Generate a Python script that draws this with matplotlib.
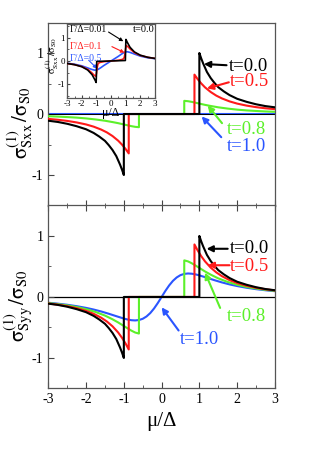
import matplotlib
matplotlib.use('Agg')
import matplotlib.pyplot as plt
from matplotlib.ticker import MultipleLocator

plt.rcParams['font.family'] = ['Liberation Serif', 'DejaVu Serif']
plt.rcParams['mathtext.fontset'] = 'stix'
plt.rcParams['axes.unicode_minus'] = False

RED = '#ff1a1a'
GREEN = '#5cf02a'
BLUE = '#2a55ff'

# t = 0.0 (same shape in both panels)
mu_t00 = [-3.0, -2.75, -2.5, -2.25, -2.0, -1.8, -1.65, -1.5, -1.4, -1.3, -1.2, -1.1, -1.05, -1.0,
          -1.0, 1.0, 1.0, 1.05, 1.1, 1.2, 1.3, 1.4, 1.5, 1.65, 1.8, 2.0, 2.25, 2.5, 2.75, 3.0]
s_t00 = [-0.11, -0.13, -0.16, -0.20, -0.25, -0.31, -0.37, -0.44, -0.51, -0.59, -0.69, -0.83, -0.91, -1.0,
         0.0, 0.0, 1.0, 0.91, 0.83, 0.69, 0.59, 0.51, 0.44, 0.37, 0.31, 0.25, 0.20, 0.16, 0.13, 0.11]

# t = 0.5
mu_t05 = [-3.0, -2.75, -2.5, -2.25, -2.0, -1.8, -1.6, -1.45, -1.3, -1.15, -1.05, -0.95, -0.87,
          -0.87, 0.87, 0.87, 0.95, 1.05, 1.15, 1.3, 1.45, 1.6, 1.8, 2.0, 2.25, 2.5, 2.75, 3.0]
sxx_t05 = [-0.08, -0.094, -0.113, -0.138, -0.171, -0.207, -0.255, -0.301, -0.361, -0.437, -0.501, -0.576, -0.646,
           0.0, 0.0, 0.646, 0.576, 0.501, 0.437, 0.361, 0.301, 0.255, 0.207, 0.171, 0.138, 0.113, 0.094, 0.08]
syy_t05 = [-0.107, -0.126, -0.151, -0.184, -0.228, -0.276, -0.340, -0.402, -0.481, -0.583, -0.668, -0.768, -0.861,
           0.0, 0.0, 0.861, 0.768, 0.668, 0.583, 0.481, 0.402, 0.340, 0.276, 0.228, 0.184, 0.151, 0.126, 0.107]

# t = 0.8
mu_t08 = [-3.0, -2.75, -2.5, -2.25, -2.0, -1.75, -1.5, -1.3, -1.15, -1.0, -0.9, -0.8, -0.7, -0.6,
          -0.6, 0.6, 0.6, 0.7, 0.8, 0.9, 1.0, 1.15, 1.3, 1.5, 1.75, 2.0, 2.25, 2.5, 2.75, 3.0]
sxx_t08 = [-0.036, -0.042, -0.050, -0.059, -0.072, -0.089, -0.110, -0.132, -0.150, -0.171, -0.185, -0.199, -0.210, -0.216,
           0.0, 0.0, 0.216, 0.210, 0.199, 0.185, 0.171, 0.150, 0.132, 0.110, 0.089, 0.072, 0.059, 0.050, 0.042, 0.036]
syy_t08 = [-0.100, -0.117, -0.138, -0.165, -0.200, -0.246, -0.305, -0.366, -0.418, -0.476, -0.515, -0.552, -0.583, -0.600,
           0.0, 0.0, 0.600, 0.583, 0.552, 0.515, 0.476, 0.418, 0.366, 0.305, 0.246, 0.200, 0.165, 0.138, 0.117, 0.100]

# t = 1.0
mu_t10_xx = [-3.0, 3.0]
sxx_t10 = [0.0, 0.0]
mu_t10 = [-3.0, -2.75, -2.5, -2.25, -2.0, -1.8, -1.6, -1.4, -1.2, -1.0, -0.9, -0.8, -0.7, -0.6, -0.5, -0.4, -0.3, -0.2, -0.1,
          0.0, 0.1, 0.2, 0.3, 0.4, 0.5, 0.6, 0.7, 0.8, 0.9, 1.0, 1.2, 1.4, 1.6, 1.8, 2.0, 2.25, 2.5, 2.75, 3.0]
syy_t10 = [-0.095, -0.110, -0.128, -0.151, -0.179, -0.206, -0.238, -0.275, -0.315, -0.354, -0.370, -0.381, -0.385, -0.378,
           -0.358, -0.320, -0.264, -0.189, -0.099, 0.0, 0.099, 0.189, 0.264, 0.320, 0.358, 0.378, 0.385, 0.381, 0.370,
           0.354, 0.315, 0.275, 0.238, 0.206, 0.179, 0.151, 0.128, 0.110, 0.095]

# inset, t = 0.0 with broadening
mu_g001 = [-3.0, -2.5, -2.0, -1.6, -1.3, -1.1, -1.02, -1.0, -0.98, 0.98, 1.0, 1.02, 1.1, 1.3, 1.6, 2.0, 2.5, 3.0]
s_g001 = [-0.11, -0.16, -0.25, -0.39, -0.59, -0.82, -0.93, -0.6, -0.02, 0.02, 0.6, 0.93, 0.82, 0.59, 0.39, 0.25, 0.16, 0.11]
mu_g01 = [-3.0, -2.5, -2.0, -1.6, -1.3, -1.15, -1.05, -1.0, -0.95, -0.9, -0.8, -0.5, 0.0,
          0.5, 0.8, 0.9, 0.95, 1.0, 1.05, 1.15, 1.3, 1.6, 2.0, 2.5, 3.0]
s_g01 = [-0.11, -0.16, -0.24, -0.36, -0.52, -0.62, -0.66, -0.55, -0.3, -0.14, -0.07, -0.03, 0.0,
         0.03, 0.07, 0.14, 0.3, 0.55, 0.66, 0.62, 0.52, 0.36, 0.24, 0.16, 0.11]
mu_g05 = [-3.0, -2.5, -2.0, -1.6, -1.3, -1.1, -0.9, -0.7, -0.5, -0.3, 0.0, 0.3, 0.5, 0.7, 0.9, 1.1, 1.3, 1.6, 2.0, 2.5, 3.0]
s_g05 = [-0.1, -0.14, -0.21, -0.3, -0.37, -0.4, -0.37, -0.29, -0.2, -0.12, 0.0, 0.12, 0.2, 0.29, 0.37, 0.4, 0.37, 0.3, 0.21, 0.14, 0.1]

fig = plt.figure(figsize=(3.2, 4.57), dpi=100)
ax1 = fig.add_axes([0.151, 0.5503, 0.708, 0.4004])
ax2 = fig.add_axes([0.151, 0.150, 0.708, 0.4004])
ins = fig.add_axes([0.21, 0.7856, 0.274, 0.162])


def style(ax, fs=10):
    ax.set_xlim(-3, 3)
    ax.xaxis.set_major_locator(MultipleLocator(1))
    ax.xaxis.set_minor_locator(MultipleLocator(0.5))
    ax.yaxis.set_major_locator(MultipleLocator(1))
    ax.yaxis.set_minor_locator(MultipleLocator(0.5))
    ax.tick_params(which='both', direction='in', labelsize=fs, color='#444444')
    ax.tick_params(which='major', length=4)
    ax.tick_params(which='minor', length=2.5)
    for s in ax.spines.values():
        s.set_color('#555555')
        s.set_linewidth(0.9)


lw = 1.5
ylab_xx = r'$\mathrm{σ}^{(1)}_{\rm Sxx}\,/\mathrm{σ}_{\rm S0}$'
ylab_yy = r'$\mathrm{σ}^{(1)}_{\rm Syy}\,/\mathrm{σ}_{\rm S0}$'

# top panel: sigma_Sxx
ax1.plot(mu_t10_xx, sxx_t10, color=BLUE, lw=lw, zorder=2)
ax1.axhline(0, color='black', lw=0.7, zorder=2.5)
ax1.plot(mu_t08, sxx_t08, color=GREEN, lw=lw, zorder=3)
ax1.plot(mu_t05, sxx_t05, color=RED, lw=lw, zorder=4)
ax1.plot(mu_t00, s_t00, color='black', lw=lw, zorder=5)
style(ax1)
ax1.set_ylim(-1.5, 1.5)
ax1.tick_params(labelbottom=False)
ax1.set_ylabel(ylab_xx, fontsize=15)
ax1.yaxis.set_label_coords(-0.06, 0.45)

# bottom panel: sigma_Syy
ax2.axhline(0, color='black', lw=0.9, zorder=1)
ax2.plot(mu_t10, syy_t10, color=BLUE, lw=lw, zorder=2)
ax2.plot(mu_t08, syy_t08, color=GREEN, lw=lw, zorder=3)
ax2.plot(mu_t05, syy_t05, color=RED, lw=lw, zorder=4)
ax2.plot(mu_t00, s_t00, color='black', lw=lw, zorder=5)
style(ax2)
ax2.set_ylim(-1.5, 1.5)
ax2.tick_params(which='both', top=True)
ax2.set_ylabel(ylab_yy, fontsize=15)
ax2.yaxis.set_label_coords(-0.06, 0.45)
ax2.set_xlabel('μ/Δ', fontsize=15, labelpad=4)

arr = dict(arrowstyle='-|>', lw=1.5, mutation_scale=9, shrinkA=0, shrinkB=0)


def label(ax, txt, pos, tail, tip, c):
    ax.text(pos[0], pos[1], txt, color=c, fontsize=13.5, ha='center', va='center', zorder=10)
    ax.annotate('', xy=tip, xytext=tail, arrowprops=dict(arr, color=c), zorder=10)


label(ax1, 't=0.0', (2.3, 0.78), (1.72, 0.80), (1.12, 0.82), 'black')
label(ax1, 't=0.5', (2.32, 0.53), (1.78, 0.52), (1.2, 0.42), RED)
label(ax1, 't=0.8', (2.25, -0.26), (1.6, -0.15), (1.22, 0.14), GREEN)
label(ax1, 't=1.0', (2.25, -0.53), (1.58, -0.38), (1.06, -0.04), BLUE)

label(ax2, 't=0.0', (2.32, 0.79), (1.75, 0.79), (1.19, 0.79), 'black')
label(ax2, 't=0.5', (2.32, 0.50), (1.8, 0.52), (1.22, 0.52), RED)
label(ax2, 't=0.8', (2.25, -0.32), (1.55, -0.18), (1.15, 0.40), GREEN)
label(ax2, 't=1.0', (1.01, -0.69), (0.45, -0.55), (0.0, -0.17), BLUE)

# inset
ins.plot(mu_g05, s_g05, color=BLUE, lw=1.2, zorder=2)
ins.plot(mu_g01, s_g01, color=RED, lw=1.2, zorder=3)
ins.plot(mu_g001, s_g001, color='black', lw=1.2, zorder=4)
style(ins, fs=6.5)
ins.set_ylim(-1.6, 1.6)
ins.tick_params(which='major', length=2.5, pad=1.5)
ins.tick_params(which='minor', length=1.5)
ins.set_ylabel(ylab_xx, fontsize=7.5)
ins.yaxis.set_label_coords(-0.07, 0.58)
ins.set_xlabel('μ/Δ', fontsize=8.5, labelpad=-1)
ins.text(-2.85, 1.38, 'Γ/Δ=0.01', color='black', fontsize=7, ha='left', va='center')
ins.text(-2.85, 0.62, 'Γ/Δ=0.1', color=RED, fontsize=7, ha='left', va='center')
ins.text(-2.85, 0.1, 'Γ/Δ=0.5', color=BLUE, fontsize=7, ha='left', va='center')
ins.text(2.95, 1.38, 't=0.0', color='black', fontsize=7.5, ha='right', va='center')
small = dict(arrowstyle='-|>', lw=0.8, mutation_scale=5, shrinkA=0, shrinkB=0)
ins.annotate('', xy=(0.84, 0.85), xytext=(-0.17, 1.25), arrowprops=dict(small, color='black'))
ins.annotate('', xy=(0.91, 0.36), xytext=(0.06, 0.62), arrowprops=dict(small, color=RED))
ins.annotate('', xy=(-0.96, -0.33), xytext=(-1.53, 0.03), arrowprops=dict(small, color=BLUE))

fig.savefig('out.png', dpi=100)
